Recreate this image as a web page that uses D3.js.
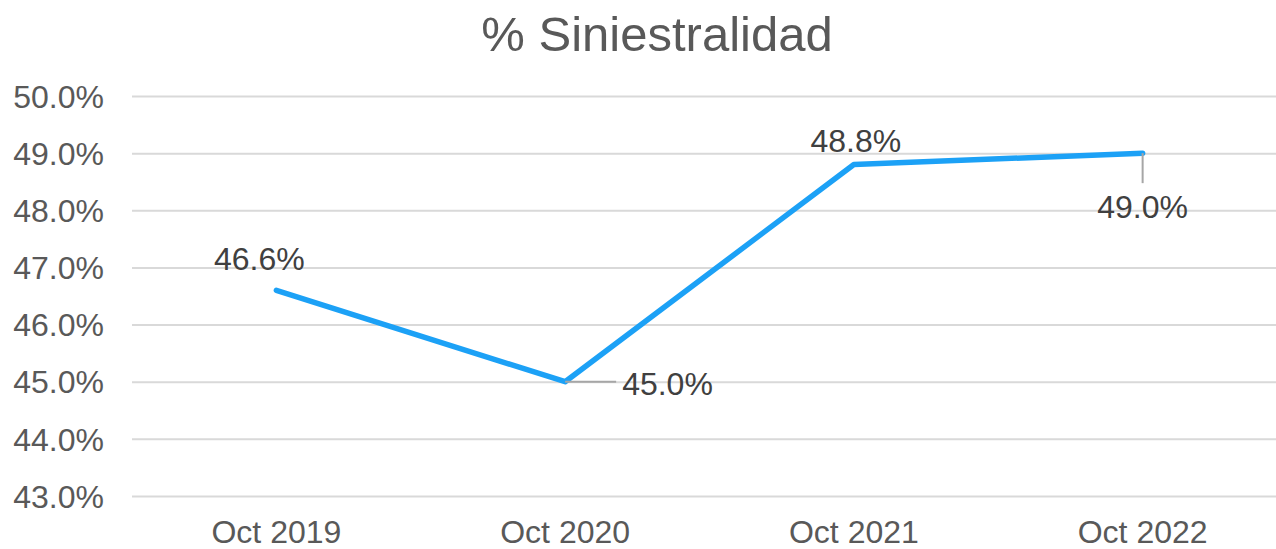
<!DOCTYPE html>
<html>
<head>
<meta charset="utf-8">
<script src="https://cdn.jsdelivr.net/npm/d3@7"></script>
<style>
  body { margin: 0; background: #fff; }
  text { font-family: "Liberation Sans", Arial, sans-serif; }
</style>
</head>
<body>
<div id="wrapper"></div>
<script>
const categories = ["Oct 2019", "Oct 2020", "Oct 2021", "Oct 2022"];
const values = [46.6, 45.0, 48.8, 49.0];
const yTicks = [43, 44, 45, 46, 47, 48, 49, 50];
const title = "% Siniestralidad";

function buildPlot(){
    const dimension = {
        width: 1276,
        height: 549,
        margin: { left: 132, right: -11, top: 96, bottom: 52 }
    };

    const svg = d3.select("#wrapper").append("svg")
        .attr("width", dimension.width)
        .attr("height", dimension.height);

    const x_scale = d3.scaleBand()
        .domain(categories)
        .range([dimension.margin.left, dimension.width - dimension.margin.right]);

    const y_scale = d3.scaleLinear()
        .domain([43, 50])
        .range([dimension.height - dimension.margin.bottom - 1, dimension.margin.top]);

    const cx = d => x_scale(d) + x_scale.bandwidth() / 2;

    // title
    svg.append("text")
        .attr("x", 657)
        .attr("y", 51)
        .attr("text-anchor", "middle")
        .style("font-size", "49px")
        .attr("fill", "#595959")
        .text(title);

    // y grid + labels
    const y_axis = d3.axisLeft(y_scale)
        .tickValues(yTicks)
        .tickFormat(d => d.toFixed(1) + "%")
        .tickSize(-(dimension.width - dimension.margin.left))
        .tickPadding(28);

    const gy = svg.append("g")
        .attr("transform", `translate(${dimension.margin.left},0)`)
        .call(y_axis);
    gy.select(".domain").remove();
    gy.selectAll(".tick line").attr("stroke", "#d9d9d9").attr("stroke-width", 2);
    gy.selectAll(".tick text")
        .attr("fill", "#595959")
        .style("font-size", "32px")
        .attr("dy", "0.35em");

    // x labels
    const x_axis = d3.axisBottom(x_scale).tickSize(0).tickPadding(0);
    const gx = svg.append("g")
        .attr("transform", `translate(0,${dimension.height - dimension.margin.bottom})`)
        .call(x_axis);
    gx.select(".domain").remove();
    gx.selectAll(".tick text")
        .attr("fill", "#595959")
        .style("font-size", "32px")
        .attr("dy", "1.45em");

    // line
    const line = d3.line()
        .x((d, i) => cx(categories[i]))
        .y(d => y_scale(d));

    svg.append("path")
        .attr("fill", "none")
        .attr("stroke", "#1ca1f6")
        .attr("stroke-width", 5.5)
        .attr("stroke-linejoin", "round")
        .attr("stroke-linecap", "round")
        .attr("d", line(values));

    // data labels (offsets from point: dx, dy baseline, leader end)
    const labelLayout = [
        { dx: -17, dy: -20, anchor: "middle", leader: null },
        { dx: 57, dy: 13, anchor: "start", leader: [51, 0] },
        { dx: 2, dy: -13, anchor: "middle", leader: null },
        { dx: 0, dy: 65, anchor: "middle", leader: [0, 30] }
    ];

    values.forEach((v, i) => {
        const px = cx(categories[i]);
        const py = y_scale(v);
        const l = labelLayout[i];
        if (l.leader) {
            svg.append("line")
                .attr("x1", px).attr("y1", py)
                .attr("x2", px + l.leader[0]).attr("y2", py + l.leader[1])
                .attr("stroke", "#a6a6a6")
                .attr("stroke-width", 2);
        }
        svg.append("text")
            .attr("x", px + l.dx)
            .attr("y", py + l.dy)
            .attr("text-anchor", l.anchor)
            .attr("fill", "#404040")
            .style("font-size", "32px")
            .text(v.toFixed(1) + "%");
    });
}
buildPlot();
</script>
</body>
</html>
